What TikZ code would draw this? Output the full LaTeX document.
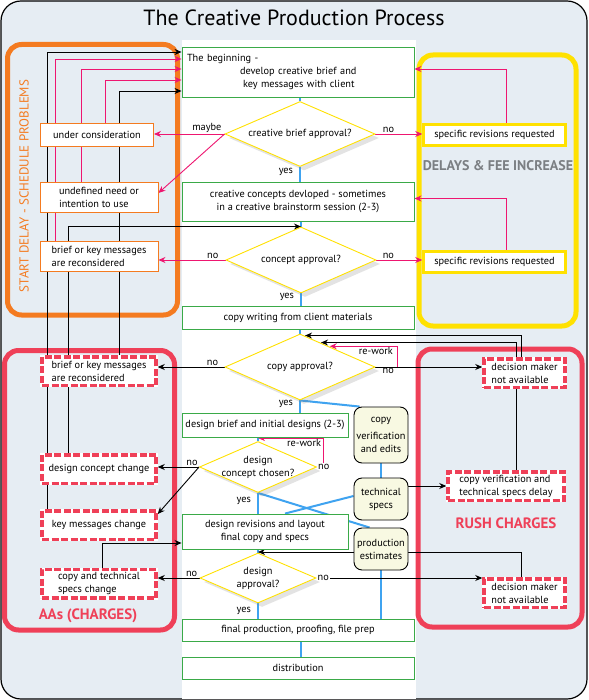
\documentclass[tikz,border=0pt]{standalone}
\usepackage{fontspec}
\setmainfont{PT Sans}
\usepackage{tikz}
\usetikzlibrary{shapes.geometric, shadows, calc, arrows.meta}
\definecolor{panelbg}{HTML}{E6EDF3}
\definecolor{boxgreen}{HTML}{3AAA48}
\definecolor{delayorange}{HTML}{F47B20}
\definecolor{feeyellow}{HTML}{FFE100}
\definecolor{chargered}{HTML}{EF4058}
\definecolor{linkpink}{HTML}{EE1670}
\definecolor{flowblue}{HTML}{3FA3F0}
\definecolor{notecream}{HTML}{F8F9E2}
\definecolor{feegray}{HTML}{7B7F83}
\pgfdeclarelayer{panels}
\pgfdeclarelayer{wires}
\pgfsetlayers{panels,wires,main}

\begin{document}
\begin{tikzpicture}[x=1pt, y=-1pt,
        every node/.style={font=\fontsize{10.3}{13}\selectfont, inner sep=2pt},
        gbox/.style={draw=boxgreen, fill=white, line width=0.9pt, align=center},
        obox/.style={draw=delayorange, fill=white, line width=0.9pt, minimum width=118pt, minimum height=30pt, align=left},
        ybox/.style={draw=feeyellow, fill=white, line width=2.5pt, minimum width=142pt, minimum height=21pt},
        rbox/.style={draw=chargered, fill=white, line width=3.5pt, dash pattern=on 7pt off 2.5pt, preaction={draw=white, solid}, minimum width=114pt, minimum height=28.5pt, align=left},
        cbox/.style={draw=black, fill=notecream, line width=0.9pt, rounded corners=8pt, minimum width=54pt, align=center},
        dia/.style={diamond, aspect=2.3, draw=feeyellow, fill=white, line width=0.9pt, inner sep=0pt, align=center, drop shadow={shadow xshift=4pt, shadow yshift=-4pt, opacity=0.22}},
        lbl/.style={inner sep=1pt},
        bk/.style={draw=black, line width=0.9pt, -{Stealth[length=7pt, width=6pt]}},
        pk/.style={draw=linkpink, line width=0.9pt, -{Stealth[length=7pt, width=6pt]}},
        ln/.style={draw=black, line width=0.9pt},
        bl/.style={draw=flowblue, line width=2pt}]
        \useasboundingbox (0,0) rectangle (588,700);

        \node[font=\fontsize{22}{26}\selectfont] (title) at (294,18) {The Creative Production Process};
        \node[rotate=90, text=delayorange, font=\fontsize{13}{16}\selectfont] (startlbl) at (24,186) {START DELAY - SCHEDULE PROBLEMS};
        \node[text=feegray, font=\fontsize{14}{16}\selectfont\bfseries] (feelbl) at (498,166) {DELAYS \& FEE INCREASE};
        \node[text=chargered, font=\fontsize{15}{17}\selectfont\bfseries] (aalbl) at (88,616) {AAs (CHARGES)};
        \node[text=chargered, font=\fontsize{15}{17}\selectfont\bfseries] (rushlbl) at (506,523) {RUSH CHARGES};

        \node[gbox, minimum width=232pt, minimum height=50pt, align=left, text width=222pt, inner xsep=5pt] (begin) at (298,72) {The beginning -\\\hspace*{53pt}develop creative brief and\\\hspace*{56pt}key messages with client};
        \node[dia, minimum width=150pt, minimum height=65pt] (cba) at (300,134) {creative brief approval?};
        \node[gbox, minimum width=232pt, minimum height=39pt] (concepts) at (298,201.5) {creative concepts devloped - sometimes\\in a creative brainstorm session (2-3)};
        \node[dia, minimum width=150pt, minimum height=66pt] (capp) at (301,260) {concept approval?};
        \node[gbox, minimum width=232pt, minimum height=23pt] (copywriting) at (298,317.5) {copy writing from client materials};
        \node[dia, minimum width=150pt, minimum height=66pt] (copyap) at (300,367) {copy approval?};
        \node[gbox, minimum width=166pt, minimum height=24pt, inner xsep=0pt] (dbrief) at (265,425) {design brief and initial designs (2-3)};
        \node[dia, minimum width=117pt, minimum height=51pt, inner xsep=-10pt] (dcon) at (258,467) {design\\concept chosen?};
        \node[gbox, minimum width=166pt, minimum height=35pt] (drev) at (265,531.5) {design revisions and layout\\final copy and specs};
        \node[dia, minimum width=116pt, minimum height=50pt] (dapp) at (258,578) {design\\approval?};
        \node[gbox, minimum width=232pt, minimum height=22pt] (finalprod) at (298,630) {final production, proofing, file prep};
        \node[gbox, minimum width=232pt, minimum height=22pt] (distrib) at (298,668) {distribution};

        \node[cbox, minimum height=56pt] (cverif) at (381,435) {copy\\[4pt]verification\\and edits};
        \node[cbox, minimum height=42pt] (tspecs) at (381,499) {technical\\specs};
        \node[cbox, minimum height=42pt] (prodest) at (381,549) {production\\estimates};

        \node[obox, minimum width=113pt, minimum height=23pt] (ucons) at (97,135) {under consideration};
        \node[obox] (undef) at (99,197) {undefined need or\\intention to use};
        \node[obox] (obrief) at (99,256) {brief or key messages\\are reconsidered};
        \node[rbox] (rbrief) at (99,371) {brief or key messages\\are reconsidered};
        \node[rbox] (dcc) at (99,469) {design concept change};
        \node[rbox] (kmc) at (99,525) {key messages change};
        \node[rbox] (ctsc) at (99,583.5) {copy and technical\\specs change};

        \node[ybox] (srev1) at (494.5,135) {specific revisions requested};
        \node[ybox] (srev2) at (494.5,262) {specific revisions requested};
        \node[rbox, minimum width=81pt] (dm1) at (524.5,373) {decision maker\\not available};
        \node[rbox, minimum width=116pt] (cvd) at (506,486) {copy verification and\\technical specs delay};
        \node[rbox, minimum width=81pt] (dm2) at (524.5,593) {decision maker\\not available};

        \node[lbl, anchor=west] (dconno) at (dcon.east) {no};
        \node[lbl, anchor=west] (dappno) at (dapp.east) {no};

        \begin{pgfonlayer}{panels}
        \fill[white] (0,0) rectangle (588,700);
        \draw[fill=panelbg, line width=1.2pt, rounded corners=20pt] (1,1) rectangle (587,699);
        \fill[white] (182,40) rectangle (416,699);
        \draw[delayorange, line width=5pt, rounded corners=14pt] (7.5,44.5) rectangle (177.5,315);
        \draw[feeyellow, line width=5pt, rounded corners=14pt] (419,55) rectangle (576,326);
        \draw[chargered, line width=5pt, rounded corners=14pt] (4.5,350.5) rectangle (174.5,630);
        \draw[chargered, line width=5pt, rounded corners=14pt] (418,349) rectangle (582,627);
        \end{pgfonlayer}

        \begin{pgfonlayer}{wires}
        \draw[bl] (begin.south -| cba.north) -- (cba.north);
        \draw[bl] (cba.south) -- node[lbl, left=5pt, pos=0.35] {yes} (cba.south |- concepts.north);
        \draw[bl] (concepts.south -| capp.north) -- (capp.north);
        \draw[bl] (capp.south) -- node[lbl, left=5pt, pos=0.3] {yes} (capp.south |- copywriting.north);
        \draw[bl] (copywriting.south -| copyap.north) -- (copyap.north);
        \draw[bl] (copyap.south) -- node[lbl, left=5pt, pos=0.3] {yes} (copyap.south |- dbrief.north);
        \draw[bl] (copyap.south) -- ($(cverif.north west)+(6,0)$);
        \draw[bl] (dbrief.south -| dcon.north) -- (dcon.north);
        \draw[bl] (dcon.south) -- node[lbl, left=5pt, pos=0.38] {yes} (dcon.south |- drev.north);
        \draw[bl] (dcon.south) -- ($(prodest.north west)+(16,0)$);
        \draw[bl] ($(tspecs.west)+(0,-3)$) -- ($(drev.north)+(20,0)$);
        \draw[bl] (cverif.south) -- (tspecs.north);
        \draw[bl] (prodest.south) -- (prodest.south |- finalprod.north);
        \draw[bl] (drev.south -| dapp.north) -- (dapp.north);
        \draw[bl] (dapp.south) -- node[lbl, left=5pt, pos=0.5] {yes} (dapp.south |- finalprod.north);
        \draw[bl] ($(finalprod.south)+(3,0)$) -- ($(distrib.north)+(3,0)$);

        \draw[bk] (kmc.north -| 47,0) |- ($(begin.west)+(0,-20)$);
        \draw[pk] (obrief.north -| 55,0) |- ($(begin.west)+(0,-13)$);
        \draw[pk] (undef.north -| 81,0) |- ($(begin.west)+(0,-3)$);
        \draw[pk] (ucons.north -| 105,0) |- ($(begin.west)+(0,8)$);
        \draw[bk] (rbrief.north -| 119,0) |- ($(begin.west)+(0,19)$);
        \draw[bk] (dcc.north -| 68,0) |- (capp.north);

        \draw[pk] (cba.west) -- node[lbl, above, pos=0.25] {maybe} (cba.west -| ucons.east);
        \draw[pk] (cba.west) -- ($(undef.east)+(0,-4)$);
        \draw[pk] (cba.east) -- node[lbl, above, pos=0.28] {no} (cba.east -| srev1.west);
        \draw[pk] ($(srev1.north)+(12,0)$) |- ($(begin.east)+(0,-3)$);
        \draw[pk] ($(srev2.north)+(12,0)$) |- ($(concepts.east)+(0,-3)$);
        \draw[pk] (capp.west) -- node[lbl, above, pos=0.19] {no} (capp.west -| obrief.east);
        \draw[pk] (capp.east) -- node[lbl, above, pos=0.26] {no} (capp.east -| srev2.west);

        \draw[bk] (copyap.west) -- node[lbl, above, pos=0.18] {no} (copyap.west -| rbrief.east);
        \draw[bk] (copyap.east) -- node[lbl, below, pos=0.12] {no} (copyap.east -| dm1.west);
        \draw[pk] ($(copyap.east)+(22,0)$) |- node[lbl, below, pos=0.66] {re-work} ($(copyap.north east)+(-8,-4)$);
        \draw[bk] (dm1.north -| 521,0) |- ($(copyap.north)+(5,2)$);
        \draw[bk] (cvd.north -| 516,0) |- ($(copyap.north)+(21,9)$);

        \draw[bk] (dcon.west) -- node[lbl, above, pos=0.17] {no} (dcon.west -| dcc.east);
        \draw[bk] (dcon.west) -- ($(kmc.north east)+(0,5)$);
        \draw[pk] (dconno.north) |- node[lbl, below, pos=0.65] {re-work} ($(dcon.north)+(0,-3)$);

        \draw[bk] (cvd.west -| tspecs.east) -- (cvd.west);
        \draw[ln] ($(prodest.east)+(0,3)$) -| (dm2.north -| 521,0);
        \draw[bk] ($(prodest.west)+(0,3)$) -- (dapp.north |- 0,552);
        \draw[bk] (dappno.east) -- (dappno.east -| dm2.west);
        \draw[bk] (dapp.west) -- node[lbl, above, pos=0.19] {no} (dapp.west -| ctsc.east);
        \draw[bk] (ctsc.north -| 102,0) |- ($(drev.west)+(0,11.5)$);
        \end{pgfonlayer}
    \end{tikzpicture}
\end{document}
